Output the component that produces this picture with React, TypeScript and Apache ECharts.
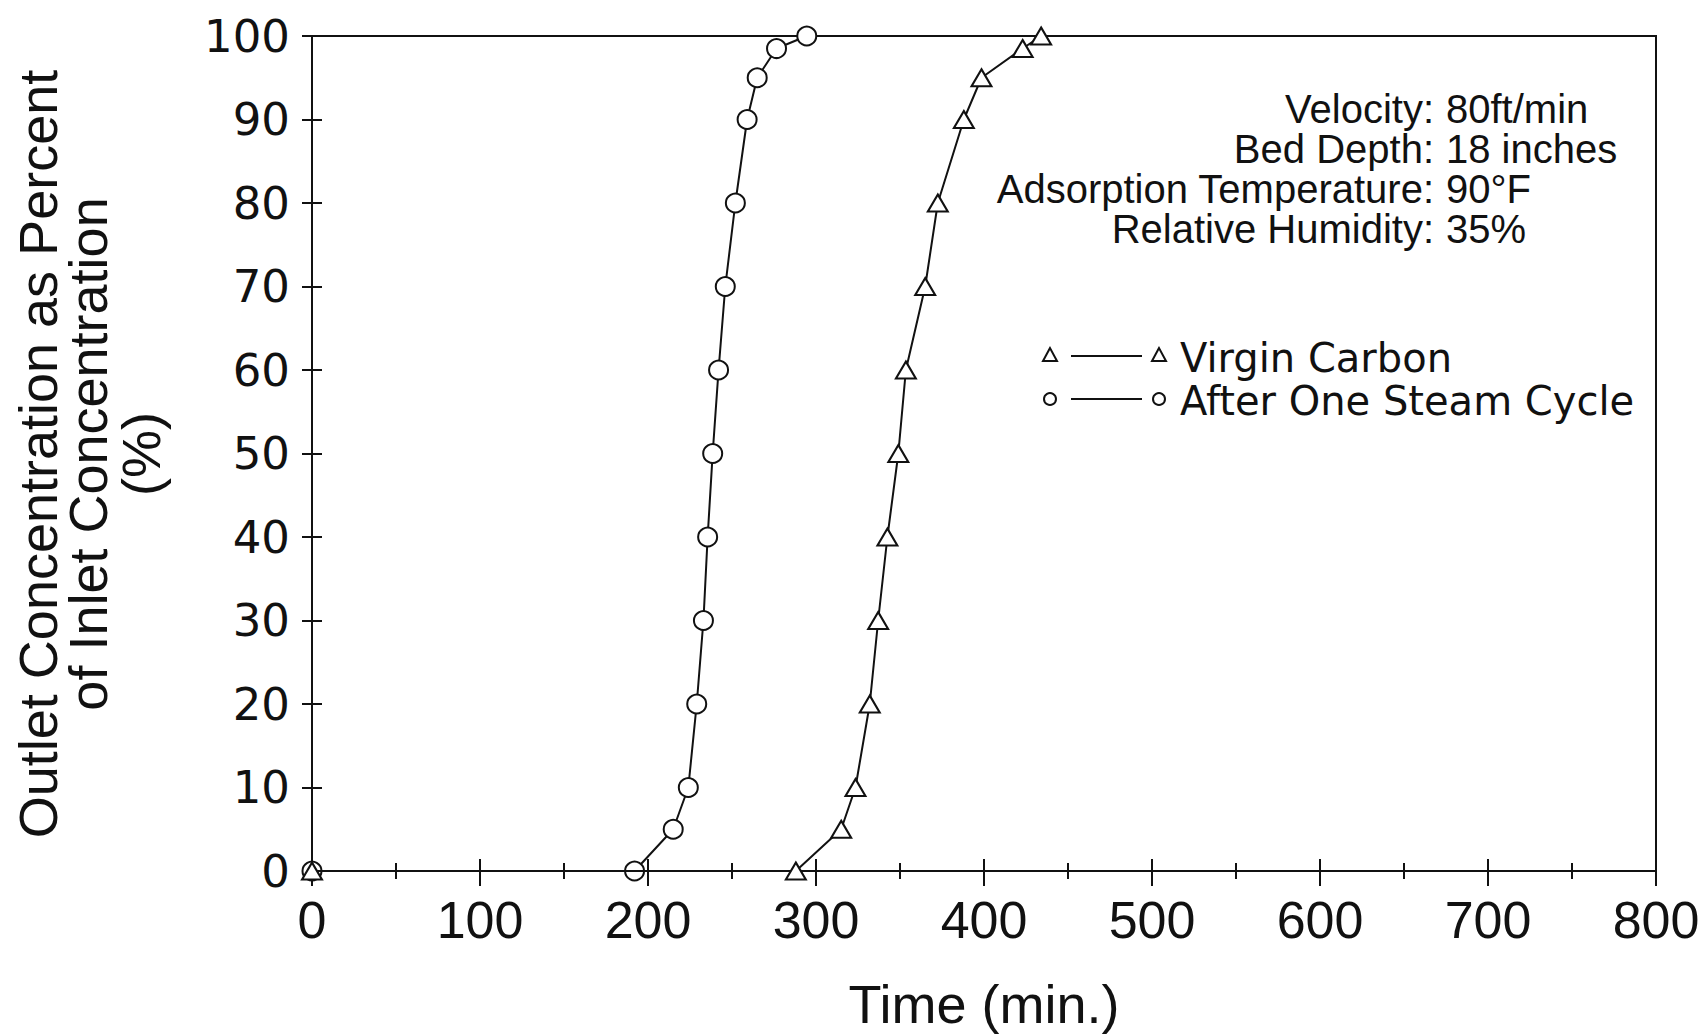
import React, { useEffect, useRef } from "react";
import * as echarts from "echarts";

// Data
const timeVirgin = [0, 288, 315, 323.5, 332, 337, 342.5, 349, 353.5, 365, 372.5, 388, 398.5, 423, 434];
const concVirgin = [0, 0, 5, 10, 20, 30, 40, 50, 60, 70, 80, 90, 95, 98.5, 100];
const timeSteam = [0, 192, 215, 224, 229, 233, 235.5, 238.5, 242, 246, 252, 259, 265, 276.5, 294.5];
const concSteam = [0, 0, 5, 10, 20, 30, 40, 50, 60, 70, 80, 90, 95, 98.5, 100];

const seriesNames = ["Virgin Carbon", "After One Steam Cycle"];
const xTitle = "Time (min.)";
const yTitleLines = ["Outlet Concentration as Percent", "of Inlet Concentration", "(%)"];
const noteLabels = ["Velocity:", "Bed Depth:", "Adsorption Temperature:", "Relative Humidity:"];
const noteValues = ["80ft/min", "18 inches", "90°F", "35%"];

const INK = "#111";
const NARROW = "'Liberation Sans', Arial, sans-serif";
const ROUND = "'DejaVu Sans', sans-serif";

export default function App() {
  const ref = useRef<HTMLDivElement>(null);

  useEffect(() => {
    if (!ref.current) return;
    const chart = echarts.init(ref.current, undefined, { renderer: "svg" });

    const virgin = timeVirgin.map((t, i) => [t, concVirgin[i]]);
    const steam = timeSteam.map((t, i) => [t, concSteam[i]]);

    const graphic: any[] = [];
    // Y title, rotated
    const yTitleX = [38, 88, 141];
    yTitleLines.forEach((line, i) => {
      graphic.push({
        type: "text",
        x: yTitleX[i],
        y: 454,
        rotation: Math.PI / 2,
        style: {
          text: line,
          font: `54px ${NARROW}`,
          lineHeight: 48,
          fill: INK,
          align: "center",
          verticalAlign: "middle",
        },
      });
    });
    // annotation block, aligned at colon
    const colonX = 1434;
    const noteY = [109, 149, 189, 229];
    noteLabels.forEach((lab, i) => {
      graphic.push({
        type: "text",
        x: colonX,
        y: noteY[i],
        style: { text: lab, font: `40px ${NARROW}`, lineHeight: 38, fill: INK, align: "right", verticalAlign: "middle" },
      });
      graphic.push({
        type: "text",
        x: colonX + 12,
        y: noteY[i],
        style: { text: noteValues[i], font: `40px ${NARROW}`, lineHeight: 38, fill: INK, align: "left", verticalAlign: "middle" },
      });
    });
    // legend
    const legY = [356, 399];
    const s1 = 1050, s2 = 1159;
    legY.forEach((ly, i) => {
      graphic.push({
        type: "line",
        shape: { x1: 1071, y1: ly, x2: 1142, y2: ly },
        style: { stroke: INK, lineWidth: 2 },
      });
      [s1, s2].forEach((sx) => {
        if (i === 0) {
          graphic.push({
            type: "polygon",
            shape: { points: [[sx, ly - 8], [sx - 7, ly + 5], [sx + 7, ly + 5]] },
            style: { fill: "#fff", stroke: INK, lineWidth: 2 },
          });
        } else {
          graphic.push({
            type: "circle",
            shape: { cx: sx, cy: ly, r: 6 },
            style: { fill: "#fff", stroke: INK, lineWidth: 2 },
          });
        }
      });
      graphic.push({
        type: "text",
        x: 1180,
        y: ly + 2,
        style: { text: seriesNames[i], font: `40px ${ROUND}`, lineHeight: 40, fill: INK, align: "left", verticalAlign: "middle" },
      });
    });

    const xBase = {
      type: "value",
      min: 0,
      max: 800,
      interval: 100,
      position: "bottom",
      splitLine: { show: false },
      axisLine: { show: true, onZero: false, lineStyle: { color: INK, width: 2 } },
    };
    const yBase = {
      type: "value",
      min: 0,
      max: 100,
      interval: 10,
      position: "left",
      splitLine: { show: false },
      axisLine: { show: true, onZero: false, lineStyle: { color: INK, width: 2 } },
    };

    chart.setOption({
      animation: false,
      backgroundColor: "#fff",
      grid: {
        left: 312,
        right: 49,
        top: 36,
        bottom: 158,
        show: true,
        borderColor: INK,
        borderWidth: 2,
        backgroundColor: "transparent",
      },
      xAxis: [
        {
          ...xBase,
          name: xTitle,
          nameLocation: "middle",
          nameGap: 106,
          nameTextStyle: { fontFamily: NARROW, fontSize: 54, color: INK },
          axisTick: { show: true, inside: false, length: 15, lineStyle: { color: INK, width: 2 } },
          minorTick: { show: true, splitNumber: 2, length: 8, lineStyle: { color: INK, width: 2 } },
          axisLabel: { show: true, margin: 23, fontFamily: NARROW, fontSize: 52, color: INK },
        },
        {
          ...xBase,
          axisLine: { show: false },
          axisTick: { show: true, inside: true, length: 12, lineStyle: { color: INK, width: 2 } },
          minorTick: { show: true, splitNumber: 2, length: 8, lineStyle: { color: INK, width: 2 } },
          axisLabel: { show: false },
        },
      ],
      yAxis: [
        {
          ...yBase,
          axisTick: { show: true, inside: false, length: 10, lineStyle: { color: INK, width: 2 } },
          axisLabel: { show: true, margin: 22, fontFamily: ROUND, fontSize: 45, color: INK },
        },
        {
          ...yBase,
          axisLine: { show: false },
          axisTick: { show: true, inside: true, length: 10, lineStyle: { color: INK, width: 2 } },
          axisLabel: { show: false },
        },
      ],
      graphic,
      series: [
        {
          name: seriesNames[0],
          type: "line",
          data: virgin,
          xAxisIndex: 0,
          yAxisIndex: 0,
          symbol: "emptyTriangle",
          symbolSize: [20, 17],
          clip: false,
          lineStyle: { color: INK, width: 2 },
          itemStyle: { color: INK, borderWidth: 2.5 },
          z: 4,
        },
        {
          name: seriesNames[1],
          type: "line",
          data: steam,
          xAxisIndex: 0,
          yAxisIndex: 0,
          symbol: "emptyCircle",
          symbolSize: 19,
          clip: false,
          lineStyle: { color: INK, width: 2 },
          itemStyle: { color: INK, borderWidth: 2.5 },
          z: 3,
        },
      ],
    });

    return () => chart.dispose();
  }, []);

  return (
    <div
      ref={ref}
      style={{ position: "absolute", left: 0, top: 0, width: 1705, height: 1036 }}
    />
  );
}
